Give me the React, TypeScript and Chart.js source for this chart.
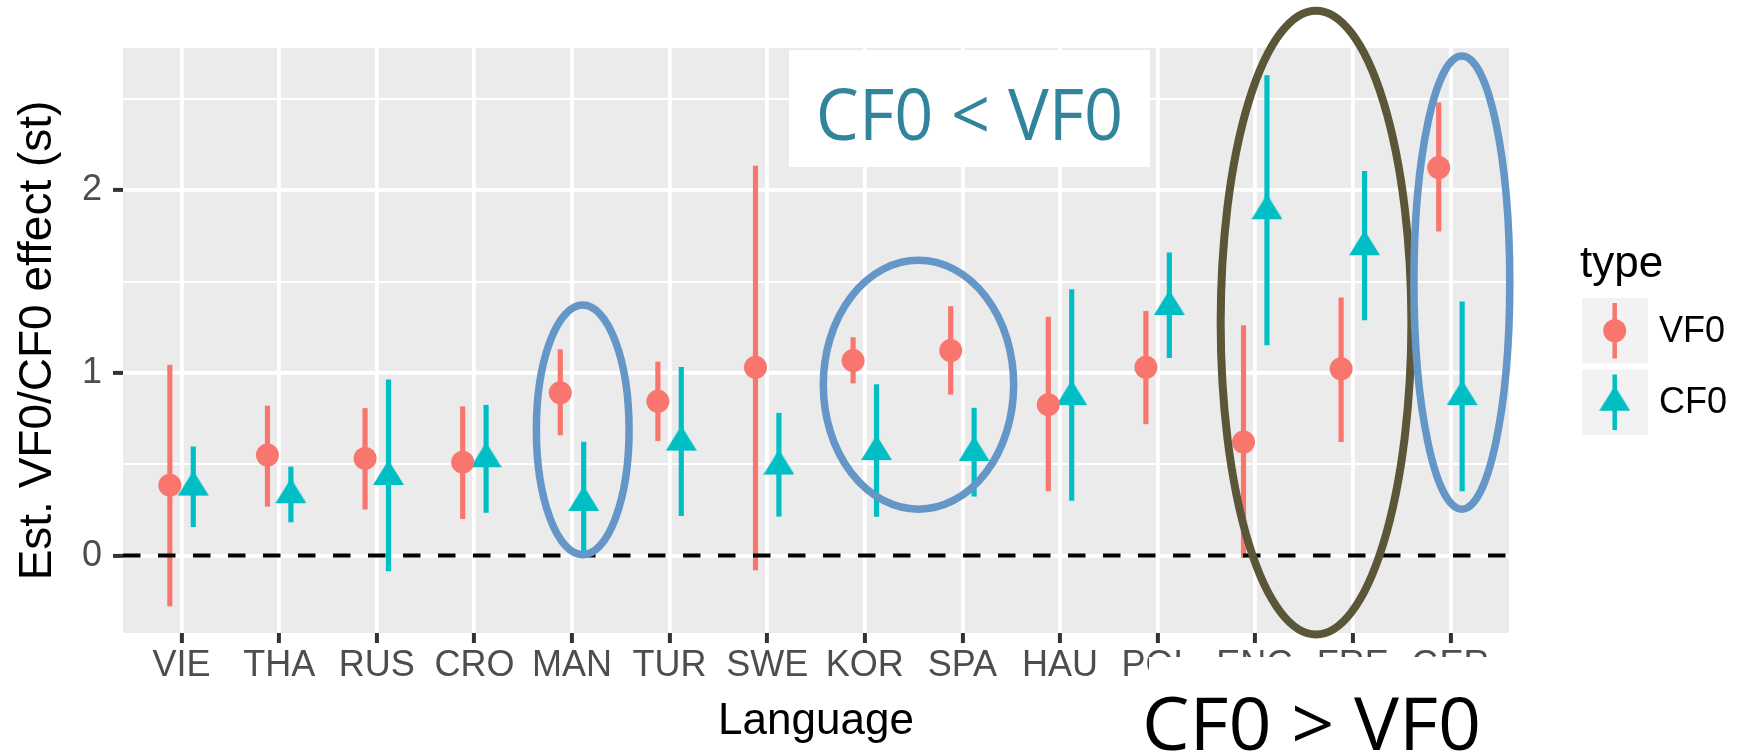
import React, { useEffect, useRef } from 'react';
import { Chart, registerables } from 'chart.js';

Chart.register(...registerables);

// ---------- data ----------
const languages = ['VIE', 'THA', 'RUS', 'CRO', 'MAN', 'TUR', 'SWE', 'KOR', 'SPA', 'HAU', 'POL', 'ENG', 'FRE', 'GER'];
const seriesNames = ['VF0', 'CF0'];

const vf0Estimate = [0.385, 0.55, 0.532, 0.511, 0.891, 0.844, 1.03, 1.067, 1.122, 0.826, 1.03, 0.621, 1.022, 2.123];
const vf0Lower = [-0.275, 0.27, 0.254, 0.202, 0.66, 0.629, -0.078, 0.944, 0.883, 0.354, 0.721, -0.01, 0.624, 1.775];
const vf0Upper = [1.043, 0.818, 0.805, 0.815, 1.127, 1.059, 2.131, 1.193, 1.363, 1.305, 1.337, 1.258, 1.41, 2.477];

const cf0Estimate = [0.375, 0.333, 0.433, 0.53, 0.291, 0.621, 0.49, 0.569, 0.564, 0.87, 1.363, 1.887, 1.69, 0.87];
const cf0Lower = [0.158, 0.184, -0.084, 0.236, 0.0, 0.218, 0.215, 0.215, 0.325, 0.302, 1.083, 1.153, 1.29, 0.354];
const cf0Upper = [0.595, 0.485, 0.962, 0.823, 0.621, 1.03, 0.779, 0.936, 0.807, 1.455, 1.657, 2.626, 2.102, 1.389];

const yMajorTicks = [0, 1, 2];
const yMinorTicks = [0.5, 1.5, 2.5];
const referenceLine = [0, 0];

// annotation ellipses, in axis units (category index, effect value)
const ellipseCx = [4.11, 7.55, 11.623, 13.117];
const ellipseCy = [0.688, 0.935, 1.275, 1.494];
const ellipseRx = [0.475, 0.975, 0.977, 0.491];
const ellipseRy = [0.683, 0.681, 1.707, 1.24];
const ellipseColor = ['#6496C8', '#6496C8', '#5C5638', '#6496C8'];

// ---------- styles ----------
const VF0_COLOR = '#F8766D';
const CF0_COLOR = '#00BFC4';
const FONT = '"Liberation Sans", Arial, Helvetica, sans-serif';
const DODGE = 0.12;
const X_MIN = -0.6;
const X_MAX = 13.6;
const Y_MIN = -0.4235;
const Y_MAX = 2.7775;

function makeTriangle(color: string, w: number, h: number) {
  const c = document.createElement('canvas');
  const H = Math.round((h * 4) / 3);
  c.width = w;
  c.height = H;
  const g = c.getContext('2d') as CanvasRenderingContext2D;
  g.fillStyle = color;
  g.beginPath();
  g.moveTo(w / 2, 0);
  g.lineTo(w, h);
  g.lineTo(0, h);
  g.closePath();
  g.fill();
  return c;
}

function drawStretched(ctx: any, text: string, x: number, y: number, align: string, font: string, color: string, sx: number) {
  ctx.save();
  ctx.translate(x, y);
  ctx.scale(sx, 1);
  ctx.font = font;
  ctx.fillStyle = color;
  ctx.textAlign = align;
  ctx.textBaseline = 'alphabetic';
  ctx.fillText(text, 0, 0);
  ctx.restore();
}

const panelBackground = {
  id: 'panelBackground',
  beforeDraw(chart: any) {
    const { ctx, chartArea: a } = chart;
    ctx.save();
    ctx.fillStyle = '#EBEBEB';
    ctx.fillRect(a.left, a.top, a.right - a.left, a.bottom - a.top);
    ctx.restore();
  },
};

export default function App() {
  const ref = useRef<HTMLCanvasElement>(null);

  useEffect(() => {
    document.body.style.margin = '0';
    const canvas = ref.current as HTMLCanvasElement;
    const triangle = makeTriangle(CF0_COLOR, 31, 25);

    const annotations = {
      id: 'annotations',
      afterDraw(chart: any) {
        const { ctx } = chart;
        const xs = chart.scales.x;
        const ys = chart.scales.y;
        ctx.save();

        // "CF0 < VF0" label box
        ctx.fillStyle = '#FFFFFF';
        ctx.fillRect(789, 50, 361, 117);
        drawStretched(ctx, 'CF0 < VF0', 969.5, 140, 'center', '72px "Open Sans", "Noto Sans", sans-serif', '#31849B', 0.95);

        // ellipses
        for (let i = 0; i < ellipseCx.length; i++) {
          const cx = xs.getPixelForValue(ellipseCx[i]);
          const cy = ys.getPixelForValue(ellipseCy[i]);
          const rx = Math.abs(xs.getPixelForValue(ellipseCx[i] + ellipseRx[i]) - cx);
          const ry = Math.abs(ys.getPixelForValue(ellipseCy[i] + ellipseRy[i]) - cy);
          ctx.beginPath();
          ctx.ellipse(cx, cy, rx, ry, 0, 0, Math.PI * 2);
          ctx.lineWidth = i === 2 ? 8 : 7.5;
          ctx.strokeStyle = ellipseColor[i];
          ctx.stroke();
        }

        // "CF0 > VF0" label box
        ctx.fillStyle = '#FFFFFF';
        ctx.fillRect(1149, 657, 360, 94);
        drawStretched(ctx, 'CF0 > VF0', 1142, 749.5, 'left', '74px "Open Sans", "Noto Sans", sans-serif', '#000000', 1.02);

        // legend
        ctx.font = `44px ${FONT}`;
        ctx.fillStyle = '#000000';
        ctx.textAlign = 'left';
        ctx.textBaseline = 'alphabetic';
        ctx.fillText('type', 1580, 276.7);
        const keyTops = [298, 369.5];
        const colors = [VF0_COLOR, CF0_COLOR];
        const lx = 1614.7;
        for (let k = 0; k < 2; k++) {
          const top = keyTops[k];
          ctx.fillStyle = '#F2F2F2';
          ctx.fillRect(1582, top, 66, 65.5);
          ctx.strokeStyle = colors[k];
          ctx.lineWidth = 4.5;
          ctx.beginPath();
          ctx.moveTo(lx, top + 5);
          ctx.lineTo(lx, top + 60.5);
          ctx.stroke();
          const cy = top + 32.75;
          if (k === 0) {
            ctx.fillStyle = colors[k];
            ctx.beginPath();
            ctx.arc(lx, cy, 11.5, 0, Math.PI * 2);
            ctx.fill();
          } else {
            ctx.drawImage(triangle, lx - triangle.width / 2, cy - triangle.height / 2);
          }
          ctx.font = `36px ${FONT}`;
          ctx.fillStyle = '#000000';
          ctx.textBaseline = 'middle';
          ctx.fillText(seriesNames[k], 1659, cy + 1);
        }
        ctx.restore();
      },
    };

    const chart = new Chart(canvas, {
      type: 'scatter',
      data: {
        datasets: [
          {
            type: 'line',
            label: seriesNames[0],
            data: languages.map((_, i) => ({ x: i - DODGE, y: vf0Estimate[i] })),
            showLine: false,
            pointStyle: 'circle',
            pointRadius: 11.5,
            pointBackgroundColor: VF0_COLOR,
            pointBorderWidth: 0,
            order: 1,
          },
          {
            type: 'line',
            label: seriesNames[1],
            data: languages.map((_, i) => ({ x: i + DODGE, y: cf0Estimate[i] })),
            showLine: false,
            pointStyle: triangle,
            pointRadius: 12,
            pointBackgroundColor: CF0_COLOR,
            pointBorderWidth: 0,
            order: 1,
          },
          {
            type: 'line',
            label: 'zero',
            data: [
              { x: X_MIN, y: referenceLine[0] },
              { x: X_MAX, y: referenceLine[1] },
            ],
            borderColor: '#000000',
            borderWidth: 4,
            borderDash: [17.5, 17.5],
            pointRadius: 0,
            fill: false,
            order: 2,
          },
          {
            type: 'bar',
            label: seriesNames[0] + ' CI',
            data: languages.map((_, i) => ({ x: i - DODGE, y: [vf0Lower[i], vf0Upper[i]] })),
            backgroundColor: VF0_COLOR,
            borderWidth: 0,
            barThickness: 4.5,
            grouped: false,
            order: 3,
          },
          {
            type: 'bar',
            label: seriesNames[1] + ' CI',
            data: languages.map((_, i) => ({ x: i + DODGE, y: [cf0Lower[i], cf0Upper[i]] })),
            backgroundColor: CF0_COLOR,
            borderWidth: 0,
            barThickness: 4.5,
            grouped: false,
            order: 3,
          },
        ] as any,
      },
      options: {
        responsive: false,
        maintainAspectRatio: false,
        animation: false,
        events: [],
        layout: { padding: { left: 0, top: 48, right: 235, bottom: 0 } },
        plugins: {
          legend: { display: false },
          tooltip: { enabled: false },
          title: { display: false },
        },
        scales: {
          x: {
            type: 'linear',
            min: X_MIN,
            max: X_MAX,
            offset: false,
            border: { display: false },
            grid: {
              offset: false,
              color: '#FFFFFF',
              lineWidth: 3.8,
              drawTicks: true,
              tickLength: 10,
              tickColor: '#333333',
              tickWidth: 4,
            },
            afterBuildTicks: (s: any) => {
              s.ticks = languages.map((_, i) => ({ value: i }));
            },
            afterFit: (s: any) => {
              s.height = 118;
            },
            ticks: {
              autoSkip: false,
              maxRotation: 0,
              minRotation: 0,
              padding: 1.5,
              color: '#4D4D4D',
              font: { family: FONT, size: 36 },
              callback: (v: any) => (languages[v] !== undefined ? languages[v] : ''),
            },
            title: {
              display: true,
              text: 'Language',
              color: '#000000',
              font: { family: FONT, size: 44, lineHeight: 1 },
              padding: { top: 0, bottom: 7.3 },
            },
          },
          y: {
            type: 'linear',
            min: Y_MIN,
            max: Y_MAX,
            border: { display: false },
            grid: {
              color: '#FFFFFF',
              lineWidth: (c: any) => (c.tick && yMajorTicks.includes(c.tick.value) ? 3.8 : 1.9),
              drawTicks: true,
              tickLength: 10,
              tickColor: (c: any) => (c.tick && yMajorTicks.includes(c.tick.value) ? '#333333' : 'rgba(0,0,0,0)'),
              tickWidth: 4,
            },
            afterBuildTicks: (s: any) => {
              s.ticks = [...yMajorTicks, ...yMinorTicks].sort((a, b) => a - b).map((v) => ({ value: v }));
            },
            afterFit: (s: any) => {
              s.width = 123;
            },
            ticks: {
              padding: 11,
              color: '#4D4D4D',
              font: { family: FONT, size: 36 },
              callback: (v: any) => (yMajorTicks.includes(v) ? String(v) : ''),
            },
            title: {
              display: true,
              text: 'Est. VF0/CF0 effect (st)',
              color: '#000000',
              font: { family: FONT, size: 46, lineHeight: 1 },
              padding: { top: 15, bottom: 0 },
            },
          },
        },
      } as any,
      plugins: [panelBackground, annotations],
    });

    return () => {
      chart.destroy();
    };
  }, []);

  return (
    <div style={{ position: 'fixed', left: 0, top: 0, width: 1744, height: 751, background: '#FFFFFF' }}>
      <canvas ref={ref} width={1744} height={751} style={{ display: 'block', width: 1744, height: 751 }} />
    </div>
  );
}
